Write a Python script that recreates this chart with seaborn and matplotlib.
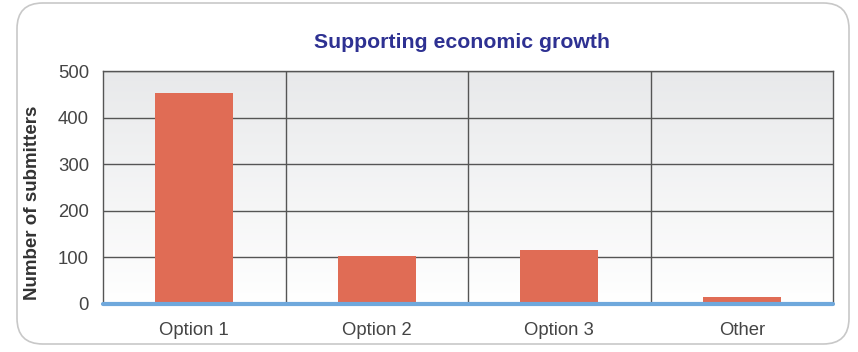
import numpy as np
import pandas as pd
import matplotlib
matplotlib.use("Agg")
import matplotlib.pyplot as plt
from matplotlib.patches import FancyBboxPatch
import seaborn as sns

categories = ["Option 1", "Option 2", "Option 3", "Other"]
submitters = [453, 102, 116, 15]
y_ticks = [0, 100, 200, 300, 400, 500]

df = pd.DataFrame({"option": categories, "count": submitters})

sns.set_style("white")
plt.rcParams["font.family"] = ["Liberation Sans", "DejaVu Sans"]

W, H = 858, 352
fig = plt.figure(figsize=(W / 100, H / 100), dpi=100)
ax = fig.add_axes([103 / W, 1 - 304 / H, (833 - 103) / W, (304 - 71) / H])

# rounded panel frame
frame = FancyBboxPatch((17 / W, 8 / H), (849 - 17) / W, (349 - 8) / H,
                       boxstyle="round,pad=0,rounding_size=0.03",
                       transform=fig.transFigure, fill=False,
                       edgecolor="#c8c8c8", linewidth=1.2, mutation_aspect=W / H)
fig.patches.append(frame)

# vertical gradient background, grey at top to white at bottom
grad = np.linspace(0, 1, 256).reshape(-1, 1)
top = np.array([0.91, 0.914, 0.92])
bot = np.array([1.0, 1.0, 1.0])
img = top + (bot - top) * grad[..., None] * np.ones((1, 1, 3))
ax.imshow(img, extent=[-0.5, len(categories) - 0.5, 0, 500], aspect="auto",
          zorder=0, origin="upper")

sns.barplot(data=df, x="option", y="count", color="#e06c55", saturation=1,
            width=0.43, ax=ax, zorder=3, linewidth=0, edgecolor="none")

ax.set_xlim(-0.5, len(categories) - 0.5)
ax.set_ylim(0, 500)
ax.set_yticks(y_ticks)
ax.set_yticklabels([str(t) for t in y_ticks])

for y in y_ticks[1:]:
    ax.axhline(y, color="#555555", linewidth=1, zorder=2)
for x in np.arange(0.5, len(categories) - 1, 1.0):
    ax.axvline(x, color="#555555", linewidth=1, zorder=2)
ax.axhline(0, color="#6fa8dc", linewidth=3, zorder=4, clip_on=False)

for side in ["top", "right", "left"]:
    ax.spines[side].set_visible(True)
    ax.spines[side].set_color("#555555")
    ax.spines[side].set_linewidth(1)
ax.spines["bottom"].set_visible(False)

ax.tick_params(axis="both", length=0, labelsize=13.3, labelcolor="#444444")
ax.tick_params(axis="x", pad=13)
ax.tick_params(axis="y", pad=10)

ax.set_xlabel("")
ax.set_ylabel("Number of submitters", fontsize=13.5, fontweight="bold",
              color="#333333")
ax.yaxis.set_label_coords(-0.085, 0.435)

fig.text(462 / W, 1 - 42 / H, "Supporting economic growth",
         ha="center", va="center", fontsize=15.3, fontweight="bold",
         color="#2e3192")

fig.savefig("out.png", dpi=100)
